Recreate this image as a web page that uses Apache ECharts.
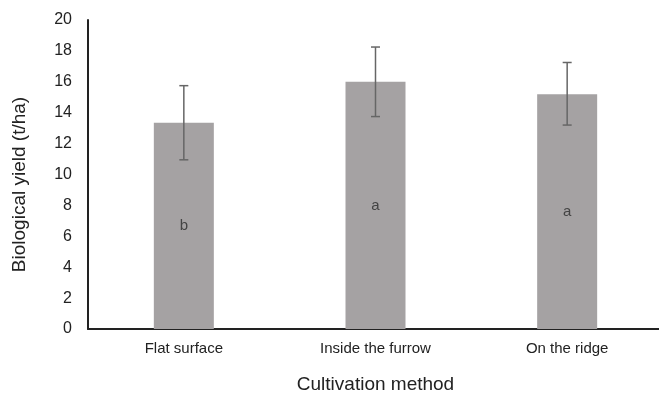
<!DOCTYPE html>
<html><head><meta charset="utf-8">
<script src="https://cdn.jsdelivr.net/npm/echarts@6/dist/echarts.min.js"></script>
<style>html,body{margin:0;padding:0;background:#fff}#c{width:659px;height:394px}</style>
</head><body><div id="c"></div>
<script>
const categories = ['Flat surface', 'Inside the furrow', 'On the ridge'];
const yieldMean = [13.35, 16.0, 15.2];
const errLow = [10.95, 13.75, 13.2];
const errHigh = [15.75, 18.25, 17.25];
const letters = ['b', 'a', 'a'];
const yTicks = [0, 2, 4, 6, 8, 10, 12, 14, 16, 18, 20];

const chart = echarts.init(document.getElementById('c'));
const font = 'Liberation Sans, Arial, sans-serif';
chart.setOption({
  animation: false,
  grid: { left: 88, right: -4, top: 20, bottom: 65, containLabel: false, outerBoundsMode: 'none' },
  xAxis: {
    type: 'category', data: categories,
    name: 'Cultivation method', nameLocation: 'middle', nameGap: 46,
    nameTextStyle: { fontFamily: font, fontSize: 19, color: '#222' },
    axisLine: { lineStyle: { color: '#222', width: 2 } },
    axisTick: { show: false },
    axisLabel: { fontFamily: font, fontSize: 15, color: '#222', margin: 12 }
  },
  yAxis: {
    type: 'value', min: yTicks[0], max: yTicks[yTicks.length - 1], interval: 2,
    name: 'Biological yield (t/ha)', nameLocation: 'middle', nameGap: 59,
    nameTextStyle: { fontFamily: font, fontSize: 19, color: '#222', padding: [0, 20, 0, 0] },
    axisLine: { show: true, lineStyle: { color: '#222', width: 2 } },
    axisTick: { show: false },
    splitLine: { show: false },
    axisLabel: { fontFamily: font, fontSize: 16, color: '#222', margin: 16 }
  },
  series: [
    {
      type: 'bar', data: yieldMean, barWidth: 60,
      itemStyle: { color: '#a5a2a3' },
      label: {
        show: true, position: 'inside',
        formatter: p => letters[p.dataIndex],
        fontFamily: font, fontSize: 15, color: '#444'
      }
    },
    {
      type: 'custom',
      data: categories.map((c, i) => [i, errLow[i], errHigh[i]]),
      renderItem: function (params, api) {
        const x = api.value(0);
        const lo = api.coord([x, api.value(1)]);
        const hi = api.coord([x, api.value(2)]);
        const hw = 4.5;
        const st = { stroke: '#666', lineWidth: 1.5 };
        return {
          type: 'group', children: [
            { type: 'line', shape: { x1: hi[0], y1: hi[1], x2: lo[0], y2: lo[1] }, style: st },
            { type: 'line', shape: { x1: hi[0] - hw, y1: hi[1], x2: hi[0] + hw, y2: hi[1] }, style: st },
            { type: 'line', shape: { x1: lo[0] - hw, y1: lo[1], x2: lo[0] + hw, y2: lo[1] }, style: st }
          ]
        };
      },
      z: 10
    }
  ]
});
</script></body></html>
